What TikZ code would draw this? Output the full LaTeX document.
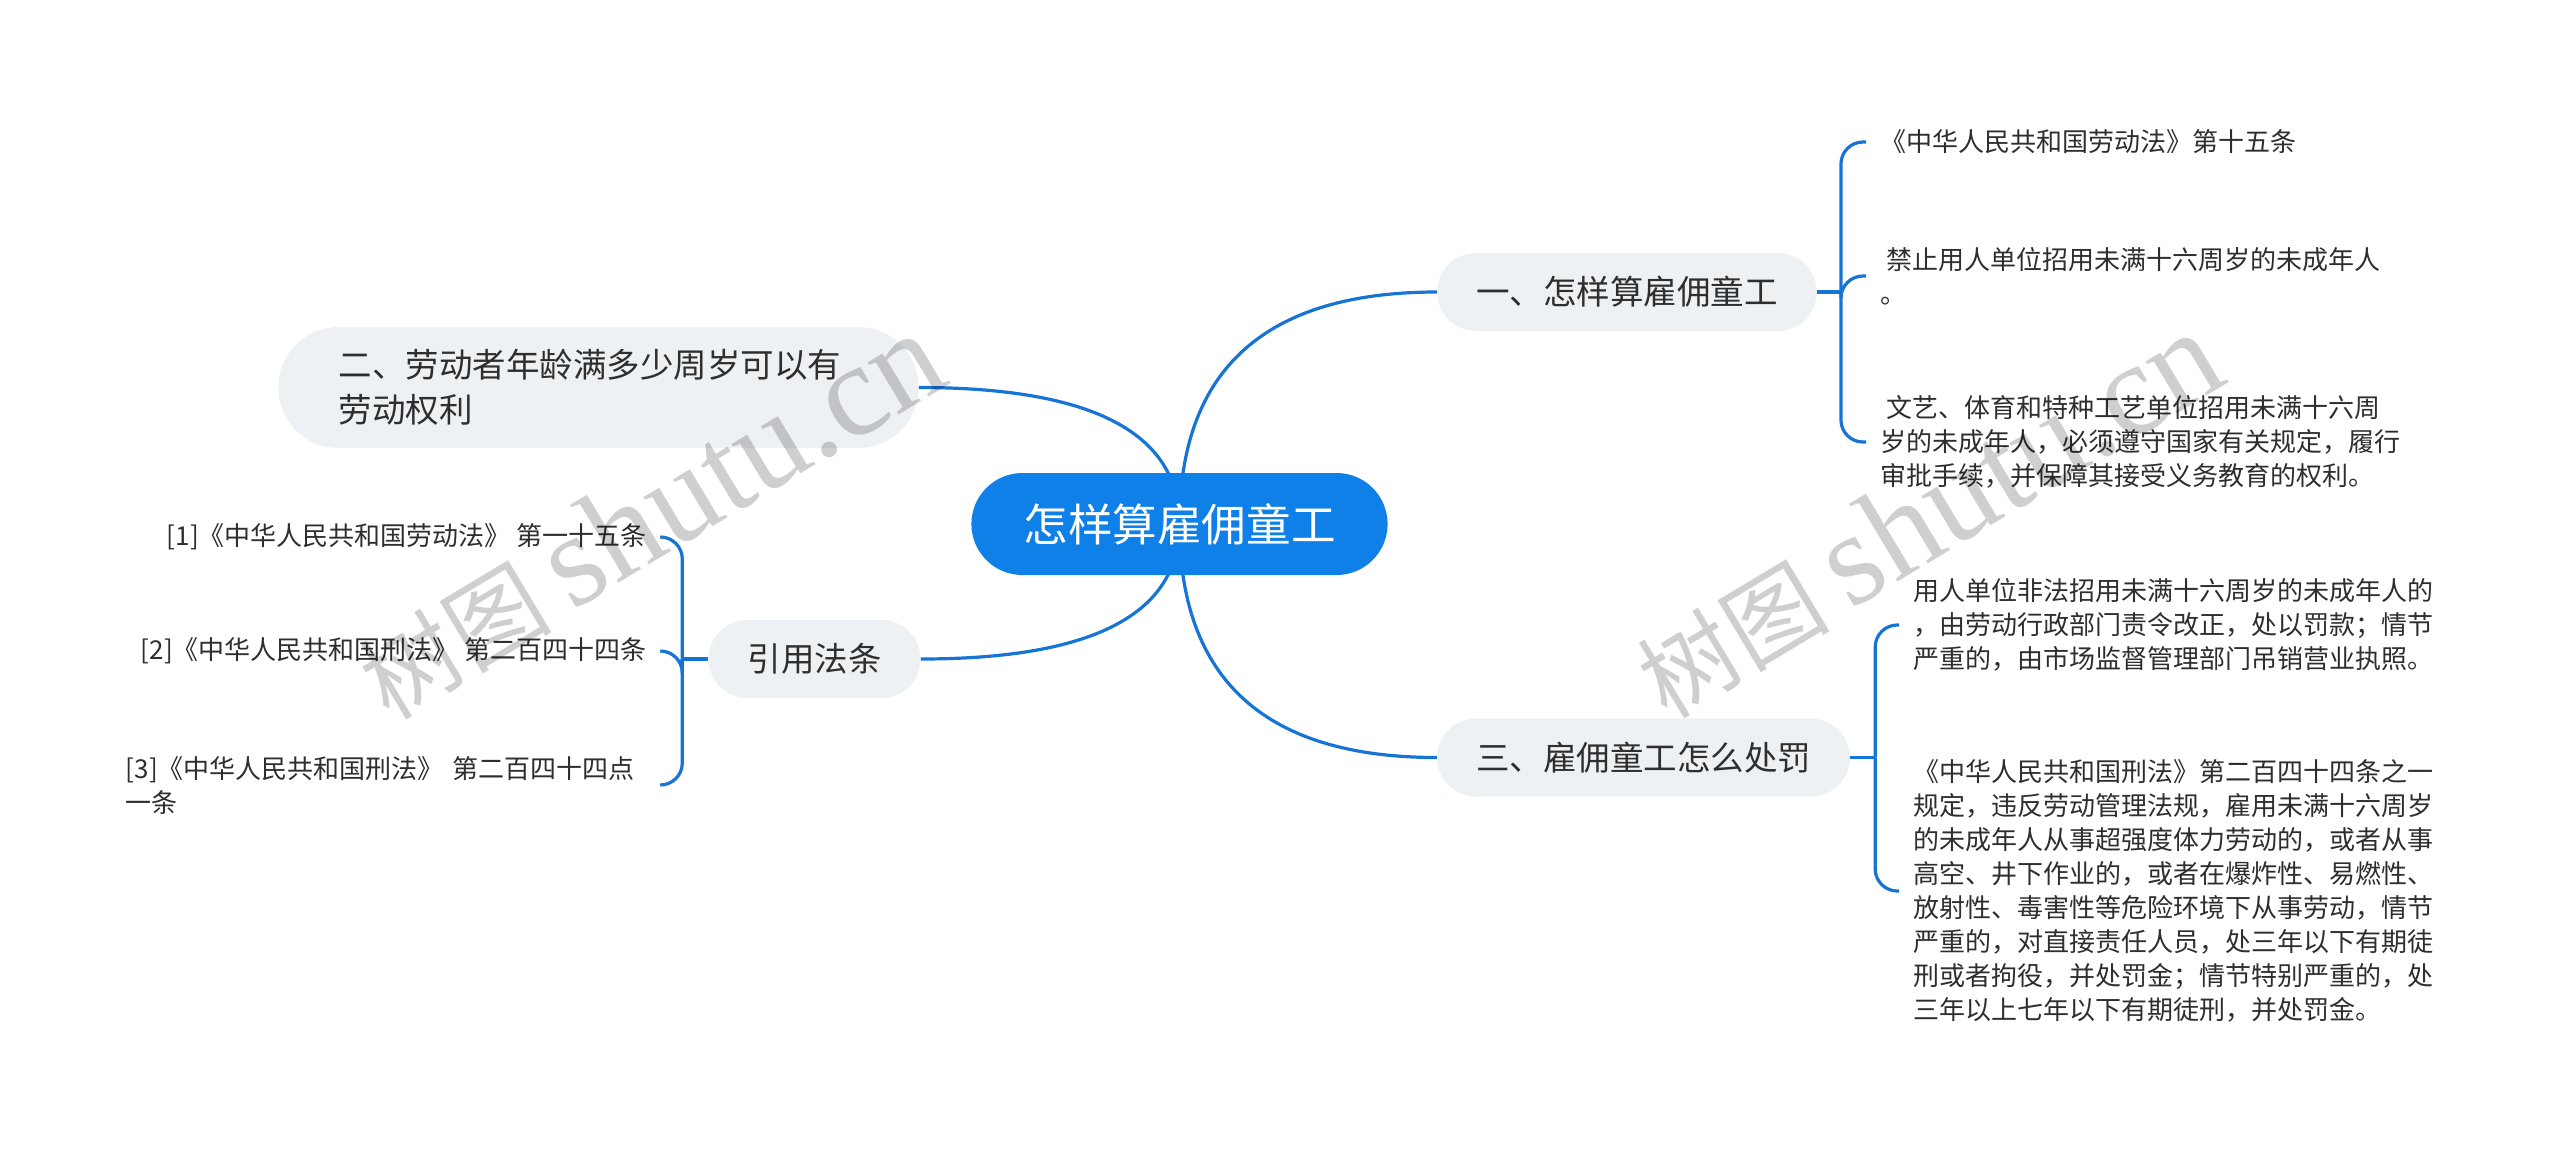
\documentclass[tikz,border=0pt]{standalone}
\usepackage{fontspec}
\setmainfont{Noto Sans CJK SC}
\newfontfamily\wmlatin{Liberation Serif}
\usetikzlibrary{calc,backgrounds}
\definecolor{mainblue}{HTML}{0F80E8}
\definecolor{linkblue}{HTML}{1674D6}
\definecolor{branchfill}{HTML}{EEF1F4}
\definecolor{txt}{HTML}{2E2E2E}
\begin{document}
\begin{tikzpicture}[x=1pt,y=-1pt,
  conn/.style={draw=linkblue,line width=3.2pt},
  leafconn/.style={draw=linkblue,line width=3.2pt,rounded corners=22pt},
  mainnode/.style={fill=mainblue,text=white,rounded corners=51pt,minimum height=102pt,
    inner xsep=52pt,inner ysep=0pt,font=\fontsize{44.6}{50}\selectfont},
  branch/.style={fill=branchfill,text=txt,rounded corners=39pt,minimum height=78pt,
    inner xsep=39pt,inner ysep=0pt,font=\fontsize{33.5}{45}\selectfont},
  leaf/.style={text=txt,inner xsep=14pt,inner ysep=0pt,font=\fontsize{26}{34}\selectfont,align=left},
  wm/.style={rotate=31,text=black,text opacity=0.19,inner sep=0pt}
]
\useasboundingbox (0,0) rectangle (2560,1149);

% main and branch nodes
\node[mainnode] (main) at (1179.5,524) {怎样算雇佣童工};
\node[branch] (b1) at (1627,292) {一、怎样算雇佣童工};
\node[branch,text width=520pt,align=left,inner xsep=60pt,minimum height=121pt,rounded corners=60pt]
  (b2) at (598.5,387.5) {二、劳动者年龄满多少周岁可以有\\劳动权利};
\node[branch] (b3) at (1643.5,757.5) {三、雇佣童工怎么处罚};
\node[branch] (b4) at (814.5,659) {引用法条};

% leaves
\node[leaf,anchor=west] (l1a) at (1866,142) {《中华人民共和国劳动法》第十五条};
\node[leaf,anchor=west] (l1b) at (1866,276) {\hspace*{6pt}禁止用人单位招用未满十六周岁的未成年人\\。};
\node[leaf,anchor=west] (l1c) at (1866,442) {\hspace*{6pt}文艺、体育和特种工艺单位招用未满十六周\\岁的未成年人，必须遵守国家有关规定，履行\\审批手续，并保障其接受义务教育的权利。};
\node[leaf,anchor=west] (l3a) at (1899,625) {用人单位非法招用未满十六周岁的未成年人的\\，由劳动行政部门责令改正，处以罚款；情节\\严重的，由市场监督管理部门吊销营业执照。};
\node[leaf,anchor=west] (l3b) at (1899,891) {《中华人民共和国刑法》第二百四十四条之一\\规定，违反劳动管理法规，雇用未满十六周岁\\的未成年人从事超强度体力劳动的，或者从事\\高空、井下作业的，或者在爆炸性、易燃性、\\放射性、毒害性等危险环境下从事劳动，情节\\严重的，对直接责任人员，处三年以下有期徒\\刑或者拘役，并处罚金；情节特别严重的，处\\三年以上七年以下有期徒刑，并处罚金。};
\node[leaf,anchor=east] (r1) at (661,537) {[1]《中华人民共和国劳动法》 第一十五条};
\node[leaf,anchor=east] (r2) at (661,651) {[2]《中华人民共和国刑法》 第二百四十四条};
\node[leaf,anchor=east,text width=521pt] (r3) at (661,785) {[3]《中华人民共和国刑法》 第二百四十四点\\一条};

% helper coordinates
\coordinate (j1) at ($(b1.east)+(24,0)$);
\coordinate (j3) at ($(b3.east)+(25,0)$);
\coordinate (j4) at ($(b4.west)+(-26,0)$);
\coordinate (k1) at (main.center |- b1.west);
\coordinate (k2) at (main.center |- b2.east);
\coordinate (k3) at (main.center |- b3.west);
\coordinate (k4) at (main.center |- b4.east);

\begin{scope}[on background layer]
  \fill[white] (0,0) rectangle (2560,1149);
  \draw[conn] (main.center) .. controls ($(main.center)!0.667!(k1)$) and ($(b1.west)!0.667!(k1)$) .. (b1.west);
  \draw[conn] (main.center) .. controls ($(main.center)!0.667!(k2)$) and ($(b2.east)!0.667!(k2)$) .. (b2.east);
  \draw[conn] (main.center) .. controls ($(main.center)!0.667!(k3)$) and ($(b3.west)!0.667!(k3)$) .. (b3.west);
  \draw[conn] (main.center) .. controls ($(main.center)!0.667!(k4)$) and ($(b4.east)!0.667!(k4)$) .. (b4.east);
  \draw[conn] (b1.east) -- (j1);
  \draw[leafconn] (j1) |- (l1a.west);
  \draw[leafconn] (j1) |- (l1b.west);
  \draw[leafconn] (j1) |- (l1c.west);
  \draw[conn] (b3.east) -- (j3);
  \draw[leafconn] (j3) |- (l3a.west);
  \draw[leafconn] (j3) |- (l3b.west);
  \draw[conn] (b4.west) -- (j4);
  \draw[leafconn] (j4) |- (r1.east);
  \draw[leafconn] (j4) |- (r2.east);
  \draw[leafconn] (j4) |- (r3.east);
\end{scope}

% watermarks
\node[wm] (wm1) at (650,516) {\fontsize{96}{96}\selectfont 树图 {\wmlatin\fontsize{132}{132}\selectfont shutu.cn}};
\node[wm] (wm2) at (1928,515) {\fontsize{96}{96}\selectfont 树图 {\wmlatin\fontsize{132}{132}\selectfont shutu.cn}};
\end{tikzpicture}
\end{document}
